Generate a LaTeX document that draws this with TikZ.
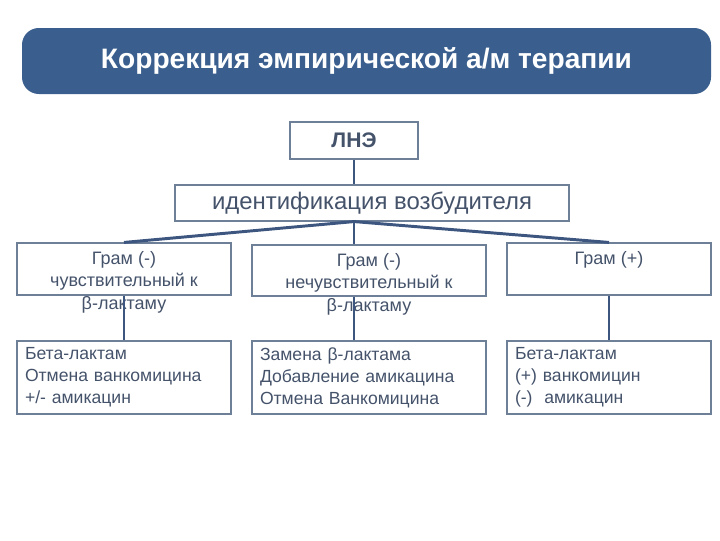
\documentclass[tikz,border=0pt]{standalone}
\usepackage{fontspec}
\setmainfont{Liberation Sans}
\usepackage{tikz}
\usetikzlibrary{positioning}
\definecolor{bannerblue}{HTML}{3A5F8E}
\definecolor{linkblue}{HTML}{3D5680}
\definecolor{boxgray}{HTML}{6E8098}
\definecolor{textgray}{HTML}{44526A}

\begin{document}
\begin{tikzpicture}
             %% setup
             [
                 x=0.025cm, y=-0.025cm,
                 banner/.style={rectangle, rounded corners=12pt, fill=bannerblue, text=white, font=\bfseries\fontsize{20}{22}\selectfont, minimum width=689*0.025cm, minimum height=66*0.025cm},
                 framebox/.style={rectangle, draw=boxgray, line width=0.8pt, text=textgray, inner sep=0pt},
                 gramtext/.style={text=textgray, align=center, font=\fontsize{12.8}{15.8}\selectfont, inner sep=0pt},
                 therapybox/.style={framebox, align=left, text width=198*0.025cm, minimum width=214*0.025cm, minimum height=73*0.025cm, font=\fontsize{12.5}{15.6}\selectfont},
                 link/.style={draw=linkblue, line width=2.1pt},
             ]
                 \useasboundingbox (0,0) rectangle (720,540);

                 %% Nodes
                 \node [banner] (title) at (366.5,61) {Коррекция эмпирической а/м терапии};
                 \node [framebox, minimum width=128*0.025cm, minimum height=37*0.025cm, font=\bfseries\fontsize{15}{18}\selectfont] (lne) at (354,140.5) {ЛНЭ};
                 \node [framebox, minimum width=394*0.025cm, minimum height=36*0.025cm, font=\fontsize{17}{20}\selectfont] (ident) at (372,203) {идентификация возбудителя};

                 \node [framebox, minimum width=214*0.025cm, minimum height=52*0.025cm] (sensbox) at (124,269) {};
                 \node [framebox, minimum width=234*0.025cm, minimum height=51*0.025cm] (resbox) at (369,270.5) {};
                 \node [framebox, minimum width=204*0.025cm, minimum height=52*0.025cm] (posbox) at (609,269) {};

                 \node [gramtext, below=9*0.025cm of sensbox.north] (senstext) {Грам (-)\\чувствительный к\\β-лактаму};
                 \node [gramtext, below=9*0.025cm of resbox.north] (restext) {Грам (-)\\нечувствительный к\\β-лактаму};
                 \node [gramtext, below=9*0.025cm of posbox.north] (postext) {Грам (+)};

                 \node [therapybox] (senstherapy) at (124,377.5) {Бета-лактам\\Отмена ванкомицина\\+/- амикацин};
                 \node [therapybox, text width=218*0.025cm, minimum width=234*0.025cm] (restherapy) at (369,377.5) {Замена β-лактама\\Добавление амикацина\\Отмена Ванкомицина};
                 \node [therapybox, text width=188*0.025cm, minimum width=204*0.025cm] (postherapy) at (609,377.5) {Бета-лактам\\(+) ванкомицин\\(-)~ амикацин};

                 %% Lines
                 \draw[link] (lne.south) -- (lne.south |- ident.north);
                 \draw[link] (lne.south |- ident.south) -- (sensbox.north);
                 \draw[link] (lne.south |- ident.south) -- (lne.south |- resbox.north);
                 \draw[link] (lne.south |- ident.south) -- (posbox.north);
                 \draw[link] (sensbox.south) -- (senstherapy.north);
                 \draw[link] (lne.south |- resbox.south) -- (lne.south |- restherapy.north);
                 \draw[link] (posbox.south) -- (postherapy.north);

        \end{tikzpicture}
\end{document}
